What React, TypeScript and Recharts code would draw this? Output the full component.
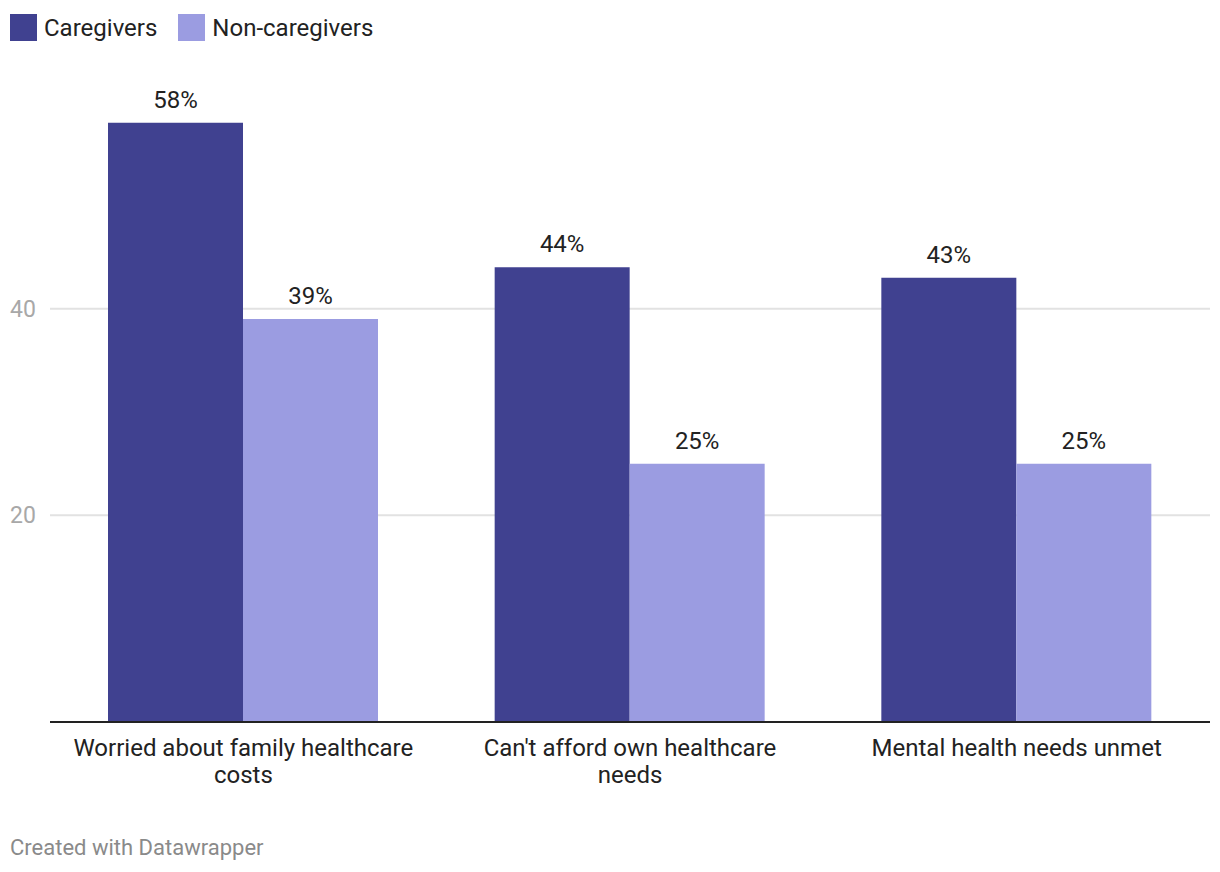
import React from 'react';
import { BarChart, Bar, XAxis, YAxis, CartesianGrid, LabelList } from 'recharts';

const categories = [
  'Worried about family healthcare costs',
  "Can't afford own healthcare needs",
  'Mental health needs unmet',
];
const caregivers = [58, 44, 43];
const nonCaregivers = [39, 25, 25];
const yTicks = [20, 40];

const DARK = '#404190';
const LIGHT = '#9b9ce1';
const FONT = 'Roboto, sans-serif';
const LABEL_WRAP = 348;

const series = [
  { key: 'caregivers', name: 'Caregivers', color: DARK },
  { key: 'nonCaregivers', name: 'Non-caregivers', color: LIGHT },
];

const data = categories.map((c, i) => ({
  category: c,
  caregivers: caregivers[i],
  nonCaregivers: nonCaregivers[i],
}));

// greedy word wrap measured with a canvas
let ctx: CanvasRenderingContext2D | null = null;
function wrap(label: string, font: string, maxWidth: number) {
  if (!ctx) ctx = document.createElement('canvas').getContext('2d');
  if (!ctx) return [label];
  ctx.font = font;
  const lines: string[] = [];
  let cur = '';
  for (const w of label.split(' ')) {
    const next = cur ? cur + ' ' + w : w;
    if (cur && ctx.measureText(next).width > maxWidth) {
      lines.push(cur);
      cur = w;
    } else {
      cur = next;
    }
  }
  if (cur) lines.push(cur);
  return lines;
}

const YTick = ({ y, payload }: any) => (
  <text x={10} y={y} dy={8} fill="#a8a8a8" fontSize={23} fontFamily={FONT} textAnchor="start">
    {payload.value}
  </text>
);

const XTick = ({ x, y, payload }: any) => {
  const lines = wrap(String(payload.value), '24px Roboto', LABEL_WRAP);
  return (
    <text x={x} y={y + 26} textAnchor="middle" fill="#222" fontSize={24} fontFamily={FONT}>
      {lines.map((l, i) => (
        <tspan key={i} x={x} dy={i === 0 ? 0 : 27}>
          {l}
        </tspan>
      ))}
    </text>
  );
};

export default function App() {
  return (
    <div style={{ position: 'absolute', left: 0, top: 0, width: 1220, height: 872, background: '#fff' }}>
      {/* legend */}
      <div
        style={{
          position: 'absolute',
          left: 10,
          top: 14,
          display: 'flex',
          fontFamily: FONT,
          fontSize: 24,
          color: '#222',
        }}
      >
        {series.map((s) => (
          <div key={s.key} style={{ display: 'flex', alignItems: 'center', marginRight: 21, height: 27 }}>
            <span style={{ width: 27, height: 27, background: s.color, display: 'inline-block', marginRight: 7 }} />
            {s.name}
          </div>
        ))}
      </div>
      <BarChart
        width={1220}
        height={872}
        data={data}
        margin={{ top: 102, right: 10, left: 12, bottom: 80 }}
        barCategoryGap="15%"
        barGap={0}
      >
        <CartesianGrid vertical={false} horizontalValues={yTicks} stroke="#e2e2e2" strokeWidth={2} />
        <XAxis
          dataKey="category"
          interval={0}
          height={70}
          axisLine={{ stroke: '#222', strokeWidth: 2 }}
          tickLine={false}
          tick={(props: any) => <XTick {...props} />}
        />
        <YAxis
          domain={[0, 60]}
          ticks={yTicks}
          width={38}
          axisLine={false}
          tickLine={false}
          tick={<YTick />}
        />
        {series.map((s) => (
          <Bar key={s.key} dataKey={s.key} name={s.name} fill={s.color} isAnimationActive={false}>
            <LabelList
              dataKey={s.key}
              position="top"
              offset={15}
              formatter={(v: any) => `${v}%`}
              style={{ fill: '#222', fontSize: 24, fontFamily: FONT }}
            />
          </Bar>
        ))}
      </BarChart>
      <div
        style={{
          position: 'absolute',
          left: 10,
          top: 835,
          fontFamily: FONT,
          fontSize: 22,
          color: '#8a8a8a',
        }}
      >
        Created with Datawrapper
      </div>
    </div>
  );
}
